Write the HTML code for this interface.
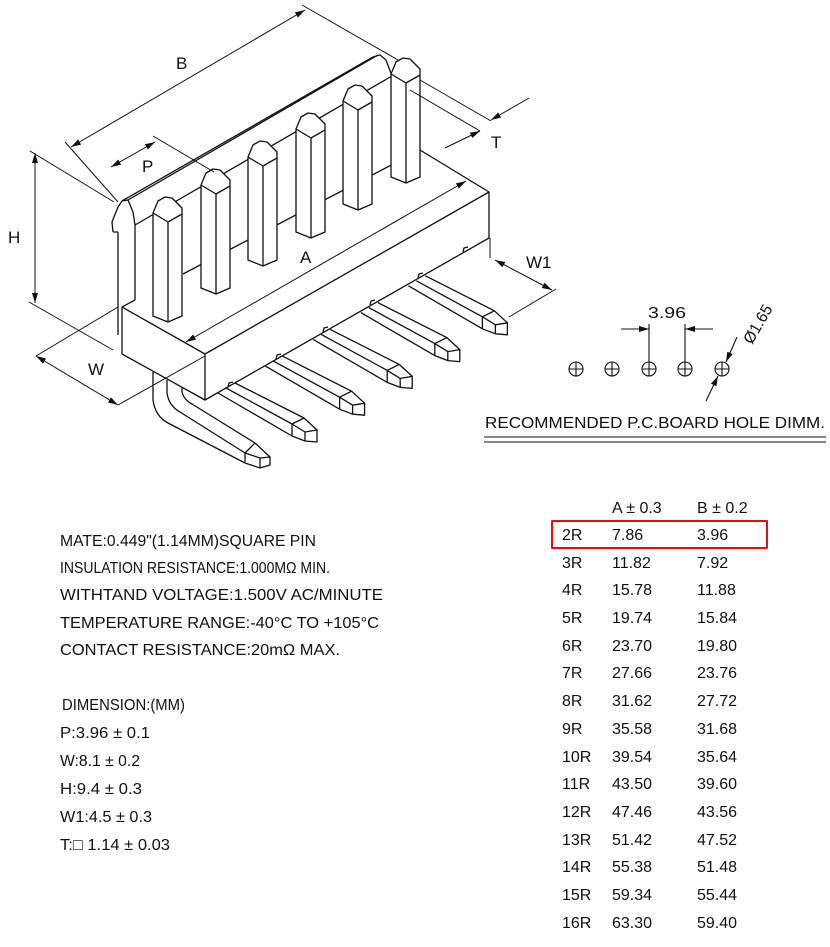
<!DOCTYPE html>
<html><head><meta charset="utf-8"><style>
html,body{margin:0;padding:0;background:#fff;}
svg{display:block}
text{font-family:"Liberation Sans",sans-serif;fill:#111;}
</style></head><body>
<svg width="830" height="947" viewBox="0 0 830 947" xmlns="http://www.w3.org/2000/svg">
<defs>
<marker id="ar" viewBox="0 0 10 6" refX="10" refY="3" markerWidth="10" markerHeight="6" orient="auto-start-reverse" markerUnits="userSpaceOnUse"><path d="M0,0 L10,3 L0,6 Z" fill="#111"/></marker>
</defs>
<g stroke="#111" stroke-width="1.3" fill="none" stroke-linejoin="round">
<!-- rail -->
<path d="M113,232 L118,232 M113,232 L112,222 L118,207 L122,201 L128,200 L133,212 L135,225"/>
<line x1="128" y1="200" x2="378" y2="55"/>
<line x1="122" y1="201" x2="373" y2="57"/>
<path d="M373,57 L380,55 L386,60 L392,76"/>
<line x1="135" y1="225" x2="392" y2="76"/>
<line x1="118" y1="232" x2="118" y2="335"/>
<line x1="135" y1="225" x2="135" y2="300"/>
<line x1="183" y1="274" x2="420" y2="150"/>
<!-- block -->
<path d="M122,307 L205,354 L205,400 L122,354 Z" fill="#fff"/>
<path d="M205,354 L489,192 L489,238 L205,400"/>
<path d="M122,307 L135,300 M420,150 L489,192"/>
<path d="M420,150 L392,166"/>
<!-- notches on block bottom -->
<path d="M228,387 l1,-4 l4,-1 M276,359 l1,-4 l4,-1 M323,332 l1,-4 l4,-1 M370,305 l1,-4 l4,-1 M418,278 l1,-4 l4,-1 M463,252 l1,-4 l4,-1"/>
</g>
<g stroke="#111" stroke-width="1.3" fill="#fff" stroke-linejoin="round" id="pins">
<path d="M153,213 L158,201 L165,197 L172,198 L182,208 L182,316 L168,322 L153,316 Z"/>
<path d="M153,213 L168,222 L182,214 M168,222 L168,322"/>
<path d="M201,185 L206,173 L213,169 L220,170 L230,180 L230,288 L216,294 L201,288 Z"/>
<path d="M201,185 L216,194 L230,186 M216,194 L216,294"/>
<path d="M248,157 L253,145 L260,141 L267,142 L277,152 L277,260 L263,266 L248,260 Z"/>
<path d="M248,157 L263,166 L277,158 M263,166 L263,266"/>
<path d="M296,129 L301,117 L308,113 L315,114 L325,124 L325,232 L311,238 L296,232 Z"/>
<path d="M296,129 L311,138 L325,130 M311,138 L311,238"/>
<path d="M343,101 L348,89 L355,85 L362,86 L372,96 L372,204 L358,210 L343,204 Z"/>
<path d="M343,101 L358,110 L372,102 M358,110 L358,210"/>
<path d="M391,74 L396,62 L403,58 L410,59 L420,69 L420,177 L406,183 L391,177 Z"/>
<path d="M391,74 L406,83 L420,75 M406,83 L406,183"/>
</g>
<g stroke="#111" stroke-width="1.3" fill="none" stroke-linejoin="round">
<!-- lead 0 bent -->
<path d="M153,372 L153,400 Q155,416 168,423 L245,463"/>
<path d="M167,380 L167,393 Q169,406 180,412 L245,453"/>
<path d="M182,388 L182,392 Q184,400 192,404 L255,443"/>
<path d="M245,453 L255,443 L270,457 L270,465 L260,468 L245,463 Z"/>
<path d="M245,453 L260,458 L270,457 M260,458 L260,468"/>
<!-- leads 1..5 -->
<path id="ld" d="M218,393 L292,436 M226,388 L292,424 M235,383 L304,418 M292,424 L304,418 L317,430 L317,442 L305,441 L292,436 Z M292,424 L305,432 L317,430 M305,432 L305,441"/>
<path transform="translate(47.6,-26.8)" d="M218,393 L292,436 M226,388 L292,424 M235,383 L304,418 M292,424 L304,418 L317,430 L317,442 L305,441 L292,436 Z M292,424 L305,432 L317,430 M305,432 L305,441"/>
<path transform="translate(95.2,-53.6)" d="M218,393 L292,436 M226,388 L292,424 M235,383 L304,418 M292,424 L304,418 L317,430 L317,442 L305,441 L292,436 Z M292,424 L305,432 L317,430 M305,432 L305,441"/>
<path transform="translate(142.8,-80.4)" d="M218,393 L292,436 M226,388 L292,424 M235,383 L304,418 M292,424 L304,418 L317,430 L317,442 L305,441 L292,436 Z M292,424 L305,432 L317,430 M305,432 L305,441"/>
<path transform="translate(190.4,-107.2)" d="M218,393 L292,436 M226,388 L292,424 M235,383 L304,418 M292,424 L304,418 L317,430 L317,442 L305,441 L292,436 Z M292,424 L305,432 L317,430 M305,432 L305,441"/>
<!-- dimensions -->
<g stroke-width="1">
<line x1="71" y1="147" x2="305" y2="10" marker-start="url(#ar)" marker-end="url(#ar)"/>
<line x1="65" y1="142" x2="118" y2="202"/>
<line x1="302" y1="5" x2="398" y2="60"/>
<line x1="111" y1="167" x2="155" y2="142" marker-start="url(#ar)" marker-end="url(#ar)"/>
<line x1="153" y1="136" x2="214" y2="172"/>
<line x1="420" y1="80" x2="491" y2="121"/>
<line x1="410" y1="90" x2="480" y2="131"/>
<line x1="529" y1="98" x2="491" y2="120" marker-end="url(#ar)"/>
<line x1="445" y1="148" x2="480" y2="131" marker-end="url(#ar)"/>
<line x1="35" y1="153" x2="35" y2="303" marker-start="url(#ar)" marker-end="url(#ar)"/>
<line x1="30" y1="151" x2="114" y2="202"/>
<line x1="29" y1="302" x2="113" y2="350"/>
<line x1="36" y1="356" x2="118" y2="405" marker-start="url(#ar)" marker-end="url(#ar)"/>
<line x1="36" y1="356" x2="118" y2="307"/>
<line x1="118" y1="405" x2="205" y2="356"/>
<line x1="495" y1="260" x2="552" y2="290" marker-start="url(#ar)" marker-end="url(#ar)"/>
<line x1="490" y1="238" x2="490" y2="258"/>
<line x1="556" y1="289" x2="509" y2="317"/>
<line x1="466" y1="181" x2="186" y2="342" marker-start="url(#ar)" marker-end="url(#ar)"/>
</g>
<!-- holes -->
<g stroke-width="1.1">
<circle cx="576" cy="369" r="7"/><path d="M569,369h14M576,362v14"/>
<circle cx="612" cy="369" r="7"/><path d="M605,369h14M612,362v14"/>
<circle cx="649" cy="369" r="7"/><path d="M642,369h14M649,362v14"/>
<circle cx="685" cy="369" r="7"/><path d="M678,369h14M685,362v14"/>
<circle cx="722" cy="369" r="7"/><path d="M715,369h14M722,362v14"/>
<line x1="649" y1="324" x2="649" y2="362"/>
<line x1="685" y1="324" x2="685" y2="362"/>
<line x1="621" y1="329" x2="649" y2="329" marker-end="url(#ar)"/>
<line x1="713" y1="329" x2="685" y2="329" marker-end="url(#ar)"/>
<line x1="737" y1="337" x2="726" y2="362" marker-end="url(#ar)"/>
<line x1="706" y1="401" x2="718" y2="376" marker-end="url(#ar)"/>
<line x1="484" y1="437" x2="826" y2="437"/>
<line x1="484" y1="442" x2="826" y2="442"/>
</g>
<rect x="552" y="521" width="215" height="27" stroke="#e01010" stroke-width="2"/>
</g>
<g font-size="17">
<text x="176" y="69">B</text>
<text x="142" y="172">P</text>
<text x="8" y="243">H</text>
<text x="300" y="263">A</text>
<text x="88" y="375">W</text>
<text x="526" y="268">W1</text>
<text x="491" y="148">T</text>
</g>
<g font-size="16">
<text x="648" y="318" textLength="38" lengthAdjust="spacingAndGlyphs">3.96</text>
<text transform="translate(752,345) rotate(-60)" textLength="42" lengthAdjust="spacingAndGlyphs">Ø1.65</text>
<text x="485" y="428" textLength="340" lengthAdjust="spacingAndGlyphs">RECOMMENDED P.C.BOARD HOLE DIMM.</text>
<text x="60" y="546" textLength="256" lengthAdjust="spacingAndGlyphs">MATE:0.449"(1.14MM)SQUARE PIN</text>
<text x="60" y="573" textLength="270" lengthAdjust="spacingAndGlyphs">INSULATION RESISTANCE:1.000MΩ  MIN.</text>
<text x="60" y="600" textLength="323" lengthAdjust="spacingAndGlyphs">WITHTAND VOLTAGE:1.500V AC/MINUTE</text>
<text x="60" y="628" textLength="319" lengthAdjust="spacingAndGlyphs">TEMPERATURE RANGE:-40°C TO +105°C</text>
<text x="60" y="655" textLength="280" lengthAdjust="spacingAndGlyphs">CONTACT RESISTANCE:20mΩ  MAX.</text>
<text x="62" y="710" textLength="123" lengthAdjust="spacingAndGlyphs">DIMENSION:(MM)</text>
<text x="60" y="738" textLength="90" lengthAdjust="spacingAndGlyphs">P:3.96 ± 0.1</text>
<text x="60" y="766" textLength="80" lengthAdjust="spacingAndGlyphs">W:8.1 ± 0.2</text>
<text x="60" y="794" textLength="82" lengthAdjust="spacingAndGlyphs">H:9.4 ± 0.3</text>
<text x="60" y="822" textLength="92" lengthAdjust="spacingAndGlyphs">W1:4.5 ± 0.3</text>
<text x="60" y="850" textLength="110" lengthAdjust="spacingAndGlyphs">T:□ 1.14 ± 0.03</text>
<text x="612" y="513">A ± 0.3</text>
<text x="697" y="513">B ± 0.2</text>
</g>
<g font-size="16">
<text x="562" y="540">2R</text><text x="612" y="540">7.86</text><text x="697" y="540">3.96</text>
<text x="562" y="568">3R</text><text x="612" y="568">11.82</text><text x="697" y="568">7.92</text>
<text x="562" y="595">4R</text><text x="612" y="595">15.78</text><text x="697" y="595">11.88</text>
<text x="562" y="623">5R</text><text x="612" y="623">19.74</text><text x="697" y="623">15.84</text>
<text x="562" y="651">6R</text><text x="612" y="651">23.70</text><text x="697" y="651">19.80</text>
<text x="562" y="678">7R</text><text x="612" y="678">27.66</text><text x="697" y="678">23.76</text>
<text x="562" y="706">8R</text><text x="612" y="706">31.62</text><text x="697" y="706">27.72</text>
<text x="562" y="734">9R</text><text x="612" y="734">35.58</text><text x="697" y="734">31.68</text>
<text x="562" y="762">10R</text><text x="612" y="762">39.54</text><text x="697" y="762">35.64</text>
<text x="562" y="789">11R</text><text x="612" y="789">43.50</text><text x="697" y="789">39.60</text>
<text x="562" y="817">12R</text><text x="612" y="817">47.46</text><text x="697" y="817">43.56</text>
<text x="562" y="845">13R</text><text x="612" y="845">51.42</text><text x="697" y="845">47.52</text>
<text x="562" y="872">14R</text><text x="612" y="872">55.38</text><text x="697" y="872">51.48</text>
<text x="562" y="900">15R</text><text x="612" y="900">59.34</text><text x="697" y="900">55.44</text>
<text x="562" y="928">16R</text><text x="612" y="928">63.30</text><text x="697" y="928">59.40</text>
</g>
</svg>
</body></html>
